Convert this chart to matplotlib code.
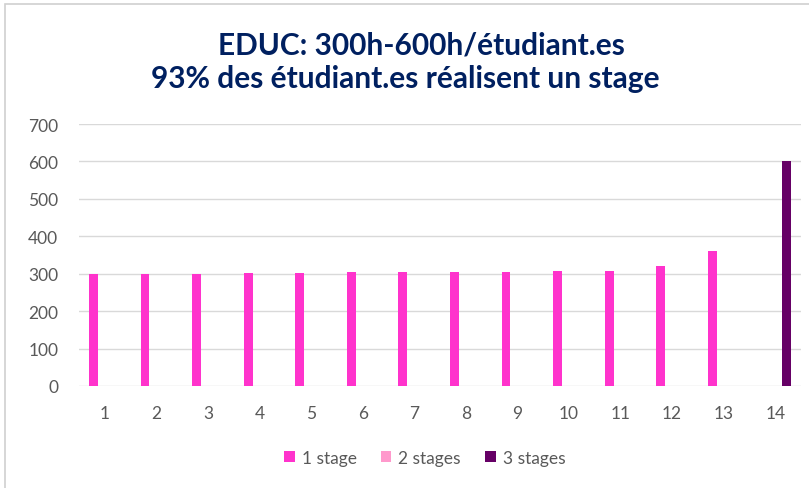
import matplotlib.pyplot as plt
import numpy as np

# data
categories = [str(i) for i in range(1, 15)]
stage1 = [300, 300, 300, 301, 301, 305, 305, 305, 305, 307, 307, 321, 361, 0]
stage2 = [0] * 14
stage3 = [0] * 13 + [600]
series_names = ['1 stage', '2 stages', '3 stages']
colors = ['#FF33CC', '#FF99CC', '#660066']

plt.rcParams['font.family'] = ['Lato', 'DejaVu Sans']

fig = plt.figure(figsize=(8.09, 4.89), dpi=100)
ax = fig.add_axes([79 / 809, 1 - 387 / 489, (801 - 79) / 809, (387 - 125) / 489])

x = np.arange(len(categories))
slot = 0.22
width = 0.17
for i, (vals, name, col) in enumerate(zip([stage1, stage2, stage3], series_names, colors)):
    ax.bar(x + (i - 1) * slot, vals, width, color=col, label=name, zorder=3)

ax.set_xlim(-0.5, len(categories) - 0.5)
ax.set_ylim(0, 700)
ax.set_yticks(range(0, 701, 100))
ax.set_xticks(x)
ax.set_xticklabels(categories)
ax.grid(axis='y', color='#D9D9D9', linewidth=1, zorder=0)
for s in ax.spines.values():
    s.set_visible(False)
ax.tick_params(length=0, labelsize=12.5, colors='#595959')
ax.tick_params(axis='x', pad=14)
ax.tick_params(axis='y', pad=15)

fig.text(0.5215, 1 - 45 / 489, 'EDUC: 300h-600h/étudiant.es', ha='center', va='center',
         fontsize=21.5, fontweight='bold', color='#002060')
fig.text(0.501, 1 - 79 / 489, '93% des étudiant.es réalisent un stage', ha='center', va='center',
         fontsize=21.5, fontweight='bold', color='#002060')

fig.legend(loc='center', bbox_to_anchor=(0.525, 1 - 459 / 489), ncol=3, frameon=False,
           fontsize=12.5, labelcolor='#595959', handlelength=0.6, handleheight=0.6,
           handletextpad=0.4, columnspacing=1.4)

# light border of the chart area
fig.patches.append(plt.Rectangle((5 / 809, -0.01), 1.1, 1 - 5 / 489 + 0.01, transform=fig.transFigure,
                                 fill=False, edgecolor='#D0D0D0', linewidth=1.2))

fig.savefig('out.png', dpi=100)
